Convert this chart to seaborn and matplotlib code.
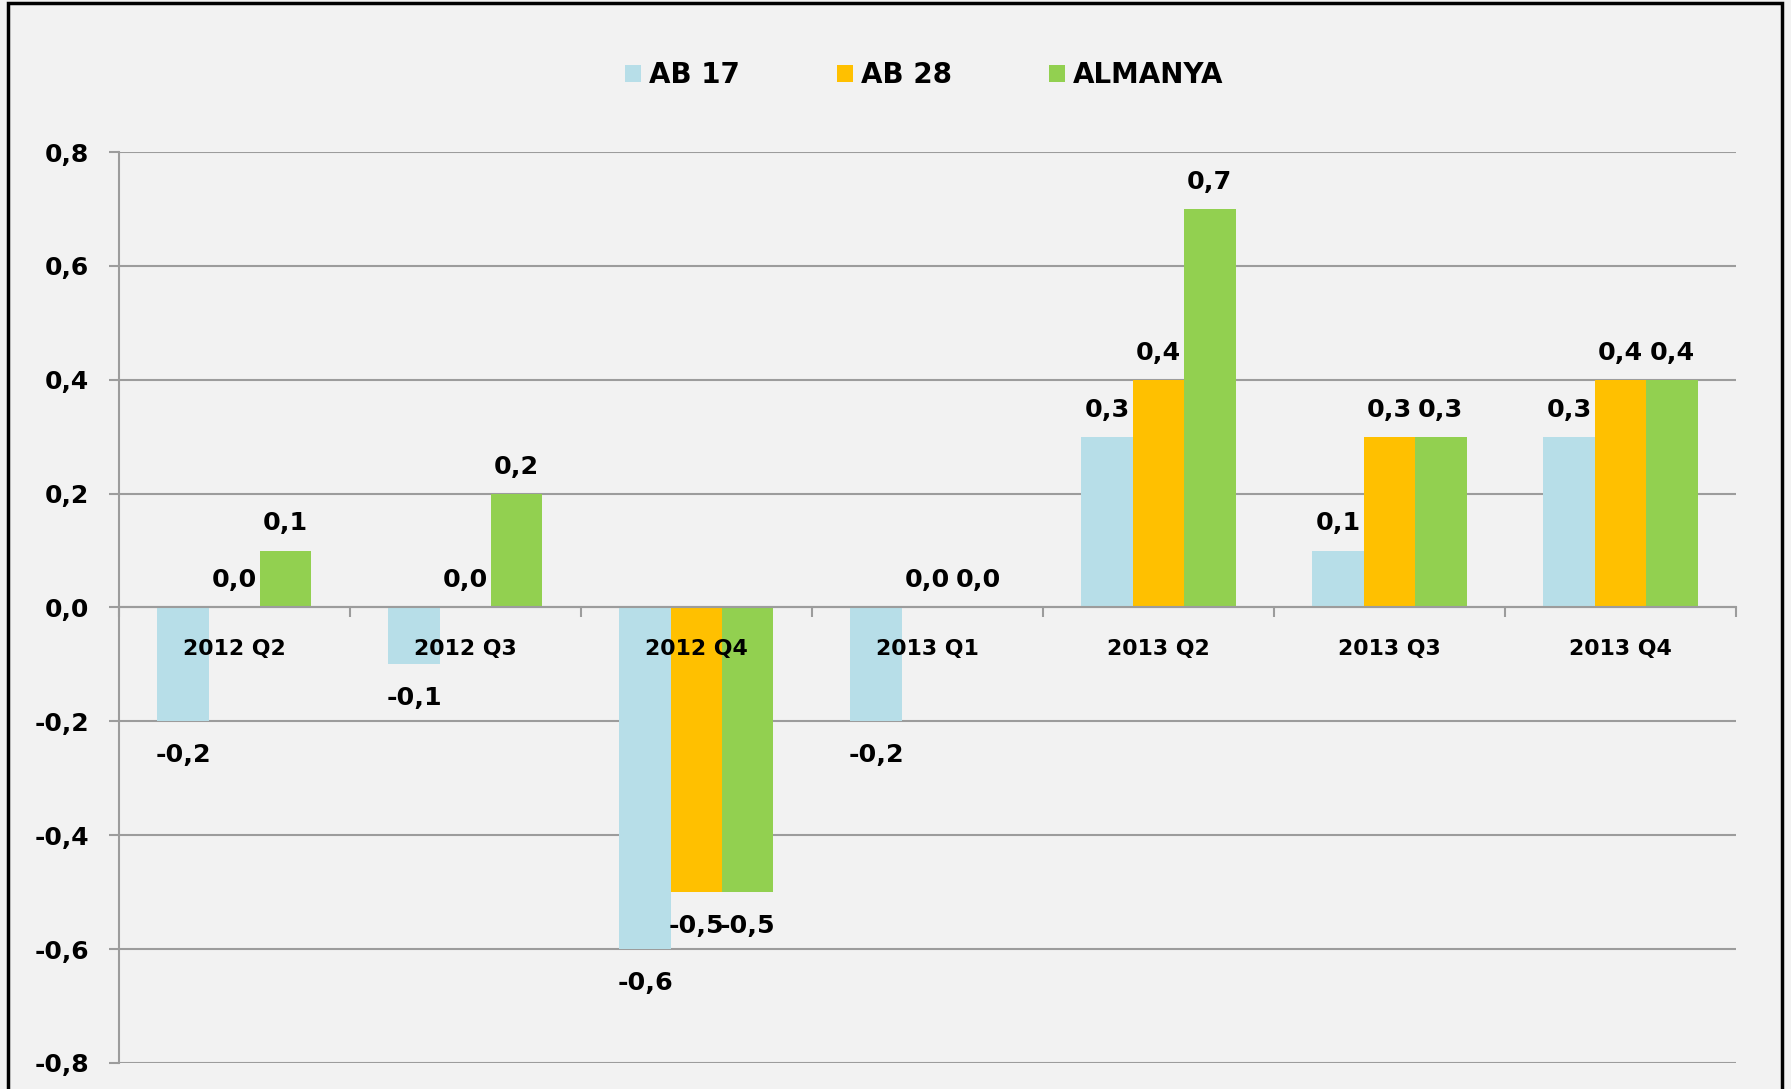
import numpy as np
import pandas as pd
import matplotlib
matplotlib.use('Agg')
import matplotlib.pyplot as plt
import seaborn as sns
from matplotlib.patches import Rectangle

categories = ["2012 Q2", "2012 Q3", "2012 Q4", "2013 Q1", "2013 Q2", "2013 Q3", "2013 Q4"]
ab17 = [-0.2, -0.1, -0.6, -0.2, 0.3, 0.1, 0.3]
ab28 = [0.0, 0.0, -0.5, 0.0, 0.4, 0.3, 0.4]
almanya = [0.1, 0.2, -0.5, 0.0, 0.7, 0.3, 0.4]
series_names = ["AB 17", "AB 28", "ALMANYA"]
colors = ["#B7DEE8", "#FFC000", "#92D050"]
yticks = [-0.8, -0.6, -0.4, -0.2, 0.0, 0.2, 0.4, 0.6, 0.8]
ytick_labels = ["-0,8", "-0,6", "-0,4", "-0,2", "0,0", "0,2", "0,4", "0,6", "0,8"]

sns.set_theme(style='white')
plt.rcParams['font.family'] = ['DejaVu Sans']
plt.rcParams['font.weight'] = 'bold'
plt.rcParams['text.color'] = 'black'

df = pd.DataFrame({
    'Donem': categories * 3,
    'Seri': np.repeat(series_names, len(categories)),
    'Deger': ab17 + ab28 + almanya,
})

BG = '#F2F2F2'
GRID = '#9C9C9C'
fig = plt.figure(figsize=(17.91, 10.89), dpi=100, facecolor=BG)
ax = fig.add_axes([0.0664, 0.0239, 0.9029, 0.8365])
ax.set_facecolor(BG)

sns.barplot(data=df, x='Donem', y='Deger', hue='Seri', hue_order=series_names,
            palette=colors, width=0.667, linewidth=0, errorbar=None,
            saturation=1, ax=ax)

ax.grid(False)
ax.set_axisbelow(False)
for yv in yticks:
    ax.axhline(yv, color=GRID, lw=1.5, zorder=0)

ax.set_ylim(-0.8, 0.8)
ax.set_xlim(-0.5, len(categories) - 0.5)
ax.set_xlabel('')
ax.set_ylabel('')

for s in ['top', 'right']:
    ax.spines[s].set_visible(False)
ax.spines['left'].set_color(GRID)
ax.spines['left'].set_linewidth(1.5)
ax.spines['bottom'].set_color(GRID)
ax.spines['bottom'].set_linewidth(1.5)
ax.spines['bottom'].set_position(('data', 0))

ax.set_yticks(yticks, ytick_labels)
ax.tick_params(axis='y', length=7.2, width=1.5, color=GRID, pad=14,
               labelsize=18, labelcolor='black', left=True)
ax.tick_params(axis='x', which='major', length=0, pad=22.5, labelsize=15.8,
               labelcolor='black')
ax.set_xticks(np.arange(-0.5, len(categories)), minor=True)
ax.tick_params(axis='x', which='minor', length=7, width=1.5, color=GRID,
               bottom=True)

for container in ax.containers:
    for bar in container:
        h = bar.get_height()
        x = bar.get_x() + bar.get_width() / 2
        off = 19.5 if h >= 0 else -24.5
        ax.annotate(f"{h:.1f}".replace('.', ',').replace('-0,0', '0,0'),
                    (x, h), xytext=(0, off), textcoords='offset points',
                    ha='center', va='center', fontsize=18.3,
                    fontweight='bold', color='black', zorder=5)

sns.move_legend(ax, 'center', bbox_to_anchor=(0.516, 0.931),
                bbox_transform=fig.transFigure, ncol=3, frameon=False,
                title=None, fontsize=20, handlelength=0.57, handleheight=0.57,
                handletextpad=0.29, columnspacing=3.5)

fig.patches.append(Rectangle((0.0045, -0.05), 0.9905, 1.047,
                             transform=fig.transFigure, fill=False,
                             ec='black', lw=2.5))

fig.savefig('out.png', dpi=100, facecolor=fig.get_facecolor())
